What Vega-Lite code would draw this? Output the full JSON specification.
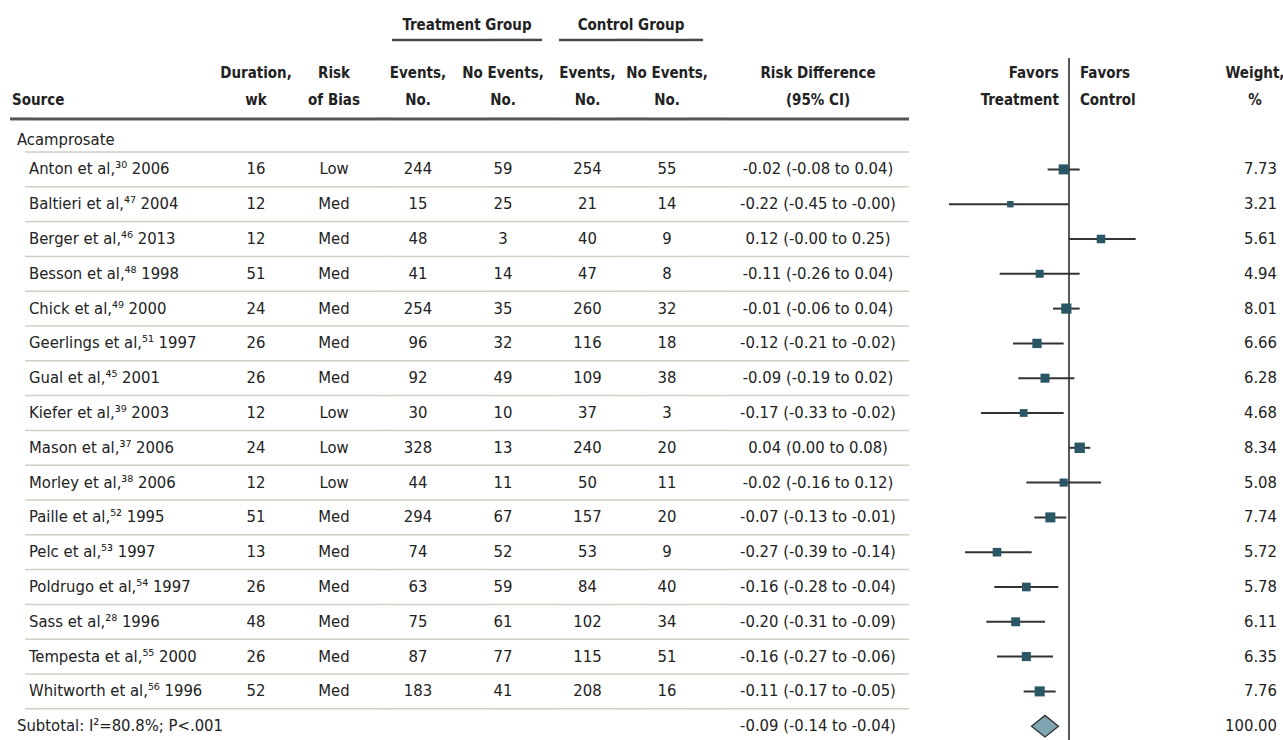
{
"$schema": "https://vega.github.io/schema/vega-lite/v6.json",
"background": "white",
"padding": {"left": 8, "top": 0, "right": 0, "bottom": 0},
"spacing": 0,
"bounds": "flush",
"config": {
  "view": {"stroke": null},
  "axis": {"disable": true},
  "legend": {"disable": true},
  "text": {"font": "DejaVu Sans Condensed, DejaVu Sans, sans-serif", "fontSize": 16.5, "color": "#222222"}
},
"datasets": {
  "rows": [
    {"row": 0, "type": "group", "source": "Acamprosate"},
    {"row": 1, "type": "study", "source": "Anton et al,³⁰ 2006", "dur": 16, "rob": "Low", "te": 244, "tn": 59, "ce": 254, "cn": 55, "rd": "-0.02 (-0.08 to 0.04)", "est": -0.02, "lo": -0.08, "hi": 0.04, "weight": 7.73},
    {"row": 2, "type": "study", "source": "Baltieri et al,⁴⁷ 2004", "dur": 12, "rob": "Med", "te": 15, "tn": 25, "ce": 21, "cn": 14, "rd": "-0.22 (-0.45 to -0.00)", "est": -0.22, "lo": -0.45, "hi": -0.0, "weight": 3.21},
    {"row": 3, "type": "study", "source": "Berger et al,⁴⁶ 2013", "dur": 12, "rob": "Med", "te": 48, "tn": 3, "ce": 40, "cn": 9, "rd": "0.12 (-0.00 to 0.25)", "est": 0.12, "lo": -0.0, "hi": 0.25, "weight": 5.61},
    {"row": 4, "type": "study", "source": "Besson et al,⁴⁸ 1998", "dur": 51, "rob": "Med", "te": 41, "tn": 14, "ce": 47, "cn": 8, "rd": "-0.11 (-0.26 to 0.04)", "est": -0.11, "lo": -0.26, "hi": 0.04, "weight": 4.94},
    {"row": 5, "type": "study", "source": "Chick et al,⁴⁹ 2000", "dur": 24, "rob": "Med", "te": 254, "tn": 35, "ce": 260, "cn": 32, "rd": "-0.01 (-0.06 to 0.04)", "est": -0.01, "lo": -0.06, "hi": 0.04, "weight": 8.01},
    {"row": 6, "type": "study", "source": "Geerlings et al,⁵¹ 1997", "dur": 26, "rob": "Med", "te": 96, "tn": 32, "ce": 116, "cn": 18, "rd": "-0.12 (-0.21 to -0.02)", "est": -0.12, "lo": -0.21, "hi": -0.02, "weight": 6.66},
    {"row": 7, "type": "study", "source": "Gual et al,⁴⁵ 2001", "dur": 26, "rob": "Med", "te": 92, "tn": 49, "ce": 109, "cn": 38, "rd": "-0.09 (-0.19 to 0.02)", "est": -0.09, "lo": -0.19, "hi": 0.02, "weight": 6.28},
    {"row": 8, "type": "study", "source": "Kiefer et al,³⁹ 2003", "dur": 12, "rob": "Low", "te": 30, "tn": 10, "ce": 37, "cn": 3, "rd": "-0.17 (-0.33 to -0.02)", "est": -0.17, "lo": -0.33, "hi": -0.02, "weight": 4.68},
    {"row": 9, "type": "study", "source": "Mason et al,³⁷ 2006", "dur": 24, "rob": "Low", "te": 328, "tn": 13, "ce": 240, "cn": 20, "rd": "0.04 (0.00 to 0.08)", "est": 0.04, "lo": 0.0, "hi": 0.08, "weight": 8.34},
    {"row": 10, "type": "study", "source": "Morley et al,³⁸ 2006", "dur": 12, "rob": "Low", "te": 44, "tn": 11, "ce": 50, "cn": 11, "rd": "-0.02 (-0.16 to 0.12)", "est": -0.02, "lo": -0.16, "hi": 0.12, "weight": 5.08},
    {"row": 11, "type": "study", "source": "Paille et al,⁵² 1995", "dur": 51, "rob": "Med", "te": 294, "tn": 67, "ce": 157, "cn": 20, "rd": "-0.07 (-0.13 to -0.01)", "est": -0.07, "lo": -0.13, "hi": -0.01, "weight": 7.74},
    {"row": 12, "type": "study", "source": "Pelc et al,⁵³ 1997", "dur": 13, "rob": "Med", "te": 74, "tn": 52, "ce": 53, "cn": 9, "rd": "-0.27 (-0.39 to -0.14)", "est": -0.27, "lo": -0.39, "hi": -0.14, "weight": 5.72},
    {"row": 13, "type": "study", "source": "Poldrugo et al,⁵⁴ 1997", "dur": 26, "rob": "Med", "te": 63, "tn": 59, "ce": 84, "cn": 40, "rd": "-0.16 (-0.28 to -0.04)", "est": -0.16, "lo": -0.28, "hi": -0.04, "weight": 5.78},
    {"row": 14, "type": "study", "source": "Sass et al,²⁸ 1996", "dur": 48, "rob": "Med", "te": 75, "tn": 61, "ce": 102, "cn": 34, "rd": "-0.20 (-0.31 to -0.09)", "est": -0.20, "lo": -0.31, "hi": -0.09, "weight": 6.11},
    {"row": 15, "type": "study", "source": "Tempesta et al,⁵⁵ 2000", "dur": 26, "rob": "Med", "te": 87, "tn": 77, "ce": 115, "cn": 51, "rd": "-0.16 (-0.27 to -0.06)", "est": -0.16, "lo": -0.27, "hi": -0.06, "weight": 6.35},
    {"row": 16, "type": "study", "source": "Whitworth et al,⁵⁶ 1996", "dur": 52, "rob": "Med", "te": 183, "tn": 41, "ce": 208, "cn": 16, "rd": "-0.11 (-0.17 to -0.05)", "est": -0.11, "lo": -0.17, "hi": -0.05, "weight": 7.76},
    {"row": 17, "type": "total", "source": "Subtotal:  I²=80.8%; P<.001", "rd": "-0.09 (-0.14 to -0.04)", "est": -0.09, "lo": -0.14, "hi": -0.04, "weight": 100.0}
  ],
  "header": [
    {"col": "src", "line": 2, "text": "Source"},
    {"col": "dur", "line": 1, "text": "Duration,"}, {"col": "dur", "line": 2, "text": "wk"},
    {"col": "rob", "line": 1, "text": "Risk"}, {"col": "rob", "line": 2, "text": "of Bias"},
    {"col": "te", "line": 1, "text": "Events,"}, {"col": "te", "line": 2, "text": "No."},
    {"col": "tn", "line": 1, "text": "No Events,"}, {"col": "tn", "line": 2, "text": "No."},
    {"col": "ce", "line": 1, "text": "Events,"}, {"col": "ce", "line": 2, "text": "No."},
    {"col": "cn", "line": 1, "text": "No Events,"}, {"col": "cn", "line": 2, "text": "No."},
    {"col": "rd", "line": 1, "text": "Risk Difference"}, {"col": "rd", "line": 2, "text": "(95% CI)"},
    {"col": "favt", "line": 1, "text": "Favors"}, {"col": "favt", "line": 2, "text": "Treatment"},
    {"col": "favc", "line": 1, "text": "Favors"}, {"col": "favc", "line": 2, "text": "Control"},
    {"col": "wt", "line": 1, "text": "Weight,"}, {"col": "wt", "line": 2, "text": "%"},
    {"col": "tg", "line": 0, "text": "Treatment Group"},
    {"col": "cg", "line": 0, "text": "Control Group"}
  ]
},
"hconcat": [
  {"width": 4, "height": 740, "resolve": {"scale": {"y": "independent"}}, "layer": [
    {"data": {"values": [{}]}, "mark": {"type": "rule", "color": "#555555", "strokeWidth": 3}, "encoding": {"y": {"datum": -0.45, "type": "quantitative", "scale": {"domain": [-3.868, 17.397], "reverse": true, "nice": false, "zero": false}}}},
    {"data": {"name": "header"}, "transform": [{"filter": "datum.col == 'src'"}], "mark": {"type": "text", "fontWeight": "bold", "fontSize": 15, "align": "left"}, "encoding": {"y": {"field": "line", "type": "quantitative", "scale": {"domain": [-1.7037, 25.7037], "reverse": true, "nice": false, "zero": false}}, "text": {"field": "text"}}}
  ]},
  {"width": 6, "height": 740, "resolve": {"scale": {"y": "independent"}}, "layer": [
    {"data": {"values": [{}]}, "mark": {"type": "rule", "color": "#555555", "strokeWidth": 3}, "encoding": {"y": {"datum": -0.45, "type": "quantitative", "scale": {"domain": [-3.868, 17.397], "reverse": true, "nice": false, "zero": false}}}},
    {"data": {"name": "rows"}, "transform": [{"filter": "datum.type == 'group'"}], "mark": {"type": "text", "align": "left", "dy": 5}, "encoding": {"y": {"field": "row", "type": "quantitative", "scale": {"domain": [-3.868, 17.397], "reverse": true, "nice": false, "zero": false}}, "text": {"field": "source"}}},
    {"data": {"name": "rows"}, "transform": [{"filter": "datum.type == 'total'"}], "mark": {"type": "text", "align": "left"}, "encoding": {"y": {"field": "row", "type": "quantitative", "scale": {"domain": [-3.868, 17.397], "reverse": true, "nice": false, "zero": false}}, "text": {"field": "source"}}}
  ]},
  {"width": 5, "height": 740, "layer": [
    {"data": {"values": [{}]}, "mark": {"type": "rule", "color": "#555555", "strokeWidth": 3}, "encoding": {"y": {"datum": -0.45, "type": "quantitative", "scale": {"domain": [-3.868, 17.397], "reverse": true, "nice": false, "zero": false}}}}
  ]},
  {"width": 8, "height": 740, "resolve": {"scale": {"y": "independent"}}, "layer": [
    {"data": {"name": "rows"}, "transform": [{"filter": "datum.row >= 1"}], "mark": {"type": "rule", "color": "#cfcfc6", "strokeWidth": 1.5}, "encoding": {"y": {"field": "row", "type": "quantitative", "scale": {"domain": [-3.368, 17.897], "reverse": true, "nice": false, "zero": false}}}},
    {"data": {"values": [{}]}, "mark": {"type": "rule", "color": "#555555", "strokeWidth": 3}, "encoding": {"y": {"datum": -0.45, "type": "quantitative", "scale": {"domain": [-3.868, 17.397], "reverse": true, "nice": false, "zero": false}}}},
    {"data": {"name": "rows"}, "transform": [{"filter": "datum.type == 'study'"}], "mark": {"type": "text", "align": "left"}, "encoding": {"y": {"field": "row", "type": "quantitative", "scale": {"domain": [-3.868, 17.397], "reverse": true, "nice": false, "zero": false}}, "text": {"field": "source"}}}
  ]},
  {"width": 189, "height": 740, "resolve": {"scale": {"y": "independent"}}, "layer": [
    {"data": {"name": "rows"}, "transform": [{"filter": "datum.row >= 1"}], "mark": {"type": "rule", "color": "#cfcfc6", "strokeWidth": 1.5}, "encoding": {"y": {"field": "row", "type": "quantitative", "scale": {"domain": [-3.368, 17.897], "reverse": true, "nice": false, "zero": false}}}},
    {"data": {"values": [{}]}, "mark": {"type": "rule", "color": "#555555", "strokeWidth": 3}, "encoding": {"y": {"datum": -0.45, "type": "quantitative", "scale": {"domain": [-3.868, 17.397], "reverse": true, "nice": false, "zero": false}}}}
  ]},
  {"width": 68, "height": 740, "resolve": {"scale": {"y": "independent"}}, "layer": [
    {"data": {"name": "rows"}, "transform": [{"filter": "datum.row >= 1"}], "mark": {"type": "rule", "color": "#cfcfc6", "strokeWidth": 1.5}, "encoding": {"y": {"field": "row", "type": "quantitative", "scale": {"domain": [-3.368, 17.897], "reverse": true, "nice": false, "zero": false}}}},
    {"data": {"values": [{}]}, "mark": {"type": "rule", "color": "#555555", "strokeWidth": 3}, "encoding": {"y": {"datum": -0.45, "type": "quantitative", "scale": {"domain": [-3.868, 17.397], "reverse": true, "nice": false, "zero": false}}}},
    {"data": {"name": "header"}, "transform": [{"filter": "datum.col == 'dur'"}], "mark": {"type": "text", "fontWeight": "bold", "fontSize": 15}, "encoding": {"y": {"field": "line", "type": "quantitative", "scale": {"domain": [-1.7037, 25.7037], "reverse": true, "nice": false, "zero": false}}, "text": {"field": "text"}}},
    {"data": {"name": "rows"}, "transform": [{"filter": "datum.type == 'study'"}], "mark": {"type": "text"}, "encoding": {"y": {"field": "row", "type": "quantitative", "scale": {"domain": [-3.868, 17.397], "reverse": true, "nice": false, "zero": false}}, "text": {"field": "dur"}}}
  ]},
  {"width": 88, "height": 740, "resolve": {"scale": {"y": "independent"}}, "layer": [
    {"data": {"name": "rows"}, "transform": [{"filter": "datum.row >= 1"}], "mark": {"type": "rule", "color": "#cfcfc6", "strokeWidth": 1.5}, "encoding": {"y": {"field": "row", "type": "quantitative", "scale": {"domain": [-3.368, 17.897], "reverse": true, "nice": false, "zero": false}}}},
    {"data": {"values": [{}]}, "mark": {"type": "rule", "color": "#555555", "strokeWidth": 3}, "encoding": {"y": {"datum": -0.45, "type": "quantitative", "scale": {"domain": [-3.868, 17.397], "reverse": true, "nice": false, "zero": false}}}},
    {"data": {"name": "header"}, "transform": [{"filter": "datum.col == 'rob'"}], "mark": {"type": "text", "fontWeight": "bold", "fontSize": 15}, "encoding": {"y": {"field": "line", "type": "quantitative", "scale": {"domain": [-1.7037, 25.7037], "reverse": true, "nice": false, "zero": false}}, "text": {"field": "text"}}},
    {"data": {"name": "rows"}, "transform": [{"filter": "datum.type == 'study'"}], "mark": {"type": "text"}, "encoding": {"y": {"field": "row", "type": "quantitative", "scale": {"domain": [-3.868, 17.397], "reverse": true, "nice": false, "zero": false}}, "text": {"field": "rob"}}}
  ]},
  {"width": 14, "height": 740, "resolve": {"scale": {"y": "independent"}}, "layer": [
    {"data": {"name": "rows"}, "transform": [{"filter": "datum.row >= 1"}], "mark": {"type": "rule", "color": "#cfcfc6", "strokeWidth": 1.5}, "encoding": {"y": {"field": "row", "type": "quantitative", "scale": {"domain": [-3.368, 17.897], "reverse": true, "nice": false, "zero": false}}}},
    {"data": {"values": [{}]}, "mark": {"type": "rule", "color": "#555555", "strokeWidth": 3}, "encoding": {"y": {"datum": -0.45, "type": "quantitative", "scale": {"domain": [-3.868, 17.397], "reverse": true, "nice": false, "zero": false}}}}
  ]},
  {"width": 52, "height": 740, "resolve": {"scale": {"y": "independent"}}, "layer": [
    {"data": {"name": "rows"}, "transform": [{"filter": "datum.row >= 1"}], "mark": {"type": "rule", "color": "#cfcfc6", "strokeWidth": 1.5}, "encoding": {"y": {"field": "row", "type": "quantitative", "scale": {"domain": [-3.368, 17.897], "reverse": true, "nice": false, "zero": false}}}},
    {"data": {"values": [{}]}, "mark": {"type": "rule", "color": "#555555", "strokeWidth": 3}, "encoding": {"y": {"datum": -0.45, "type": "quantitative", "scale": {"domain": [-3.868, 17.397], "reverse": true, "nice": false, "zero": false}}}},
    {"data": {"values": [{}]}, "mark": {"type": "rule", "color": "#474747", "strokeWidth": 2.5}, "encoding": {"y": {"datum": -2.72, "type": "quantitative", "scale": {"domain": [-3.868, 17.397], "reverse": true, "nice": false, "zero": false}}}},
    {"data": {"name": "header"}, "transform": [{"filter": "datum.col == 'te'"}], "mark": {"type": "text", "fontWeight": "bold", "fontSize": 15}, "encoding": {"y": {"field": "line", "type": "quantitative", "scale": {"domain": [-1.7037, 25.7037], "reverse": true, "nice": false, "zero": false}}, "text": {"field": "text"}}},
    {"data": {"name": "rows"}, "transform": [{"filter": "datum.type == 'study'"}], "mark": {"type": "text"}, "encoding": {"y": {"field": "row", "type": "quantitative", "scale": {"domain": [-3.868, 17.397], "reverse": true, "nice": false, "zero": false}}, "text": {"field": "te"}}}
  ]},
  {"width": 46, "height": 740, "resolve": {"scale": {"y": "independent"}}, "layer": [
    {"data": {"name": "rows"}, "transform": [{"filter": "datum.row >= 1"}], "mark": {"type": "rule", "color": "#cfcfc6", "strokeWidth": 1.5}, "encoding": {"y": {"field": "row", "type": "quantitative", "scale": {"domain": [-3.368, 17.897], "reverse": true, "nice": false, "zero": false}}}},
    {"data": {"values": [{}]}, "mark": {"type": "rule", "color": "#555555", "strokeWidth": 3}, "encoding": {"y": {"datum": -0.45, "type": "quantitative", "scale": {"domain": [-3.868, 17.397], "reverse": true, "nice": false, "zero": false}}}},
    {"data": {"values": [{}]}, "mark": {"type": "rule", "color": "#474747", "strokeWidth": 2.5}, "encoding": {"y": {"datum": -2.72, "type": "quantitative", "scale": {"domain": [-3.868, 17.397], "reverse": true, "nice": false, "zero": false}}}},
    {"data": {"name": "header"}, "transform": [{"filter": "datum.col == 'tg'"}], "mark": {"type": "text", "fontWeight": "bold", "fontSize": 15}, "encoding": {"y": {"datum": -3.15, "type": "quantitative", "scale": {"domain": [-3.868, 17.397], "reverse": true, "nice": false, "zero": false}}, "text": {"field": "text"}}}
  ]},
  {"width": 26, "height": 740, "resolve": {"scale": {"y": "independent"}}, "layer": [
    {"data": {"name": "rows"}, "transform": [{"filter": "datum.row >= 1"}], "mark": {"type": "rule", "color": "#cfcfc6", "strokeWidth": 1.5}, "encoding": {"y": {"field": "row", "type": "quantitative", "scale": {"domain": [-3.368, 17.897], "reverse": true, "nice": false, "zero": false}}}},
    {"data": {"values": [{}]}, "mark": {"type": "rule", "color": "#555555", "strokeWidth": 3}, "encoding": {"y": {"datum": -0.45, "type": "quantitative", "scale": {"domain": [-3.868, 17.397], "reverse": true, "nice": false, "zero": false}}}},
    {"data": {"values": [{}]}, "mark": {"type": "rule", "color": "#474747", "strokeWidth": 2.5}, "encoding": {"y": {"datum": -2.72, "type": "quantitative", "scale": {"domain": [-3.868, 17.397], "reverse": true, "nice": false, "zero": false}}}},
    {"data": {"name": "header"}, "transform": [{"filter": "datum.col == 'tn'"}], "mark": {"type": "text", "fontWeight": "bold", "fontSize": 15}, "encoding": {"y": {"field": "line", "type": "quantitative", "scale": {"domain": [-1.7037, 25.7037], "reverse": true, "nice": false, "zero": false}}, "text": {"field": "text"}}},
    {"data": {"name": "rows"}, "transform": [{"filter": "datum.type == 'study'"}], "mark": {"type": "text"}, "encoding": {"y": {"field": "row", "type": "quantitative", "scale": {"domain": [-3.868, 17.397], "reverse": true, "nice": false, "zero": false}}, "text": {"field": "tn"}}}
  ]},
  {"width": 26, "height": 740, "resolve": {"scale": {"y": "independent"}}, "layer": [
    {"data": {"name": "rows"}, "transform": [{"filter": "datum.row >= 1"}], "mark": {"type": "rule", "color": "#cfcfc6", "strokeWidth": 1.5}, "encoding": {"y": {"field": "row", "type": "quantitative", "scale": {"domain": [-3.368, 17.897], "reverse": true, "nice": false, "zero": false}}}},
    {"data": {"values": [{}]}, "mark": {"type": "rule", "color": "#555555", "strokeWidth": 3}, "encoding": {"y": {"datum": -0.45, "type": "quantitative", "scale": {"domain": [-3.868, 17.397], "reverse": true, "nice": false, "zero": false}}}},
    {"data": {"values": [{}]}, "mark": {"type": "rule", "color": "#474747", "strokeWidth": 2.5}, "encoding": {"y": {"datum": -2.72, "type": "quantitative", "scale": {"domain": [-3.868, 17.397], "reverse": true, "nice": false, "zero": false}}}}
  ]},
  {"width": 17, "height": 740, "resolve": {"scale": {"y": "independent"}}, "layer": [
    {"data": {"name": "rows"}, "transform": [{"filter": "datum.row >= 1"}], "mark": {"type": "rule", "color": "#cfcfc6", "strokeWidth": 1.5}, "encoding": {"y": {"field": "row", "type": "quantitative", "scale": {"domain": [-3.368, 17.897], "reverse": true, "nice": false, "zero": false}}}},
    {"data": {"values": [{}]}, "mark": {"type": "rule", "color": "#555555", "strokeWidth": 3}, "encoding": {"y": {"datum": -0.45, "type": "quantitative", "scale": {"domain": [-3.868, 17.397], "reverse": true, "nice": false, "zero": false}}}}
  ]},
  {"width": 57, "height": 740, "resolve": {"scale": {"y": "independent"}}, "layer": [
    {"data": {"name": "rows"}, "transform": [{"filter": "datum.row >= 1"}], "mark": {"type": "rule", "color": "#cfcfc6", "strokeWidth": 1.5}, "encoding": {"y": {"field": "row", "type": "quantitative", "scale": {"domain": [-3.368, 17.897], "reverse": true, "nice": false, "zero": false}}}},
    {"data": {"values": [{}]}, "mark": {"type": "rule", "color": "#555555", "strokeWidth": 3}, "encoding": {"y": {"datum": -0.45, "type": "quantitative", "scale": {"domain": [-3.868, 17.397], "reverse": true, "nice": false, "zero": false}}}},
    {"data": {"values": [{}]}, "mark": {"type": "rule", "color": "#474747", "strokeWidth": 2.5}, "encoding": {"y": {"datum": -2.72, "type": "quantitative", "scale": {"domain": [-3.868, 17.397], "reverse": true, "nice": false, "zero": false}}}},
    {"data": {"name": "header"}, "transform": [{"filter": "datum.col == 'ce'"}], "mark": {"type": "text", "fontWeight": "bold", "fontSize": 15}, "encoding": {"y": {"field": "line", "type": "quantitative", "scale": {"domain": [-1.7037, 25.7037], "reverse": true, "nice": false, "zero": false}}, "text": {"field": "text"}}},
    {"data": {"name": "rows"}, "transform": [{"filter": "datum.type == 'study'"}], "mark": {"type": "text"}, "encoding": {"y": {"field": "row", "type": "quantitative", "scale": {"domain": [-3.868, 17.397], "reverse": true, "nice": false, "zero": false}}, "text": {"field": "ce"}}}
  ]},
  {"width": 30, "height": 740, "resolve": {"scale": {"y": "independent"}}, "layer": [
    {"data": {"name": "rows"}, "transform": [{"filter": "datum.row >= 1"}], "mark": {"type": "rule", "color": "#cfcfc6", "strokeWidth": 1.5}, "encoding": {"y": {"field": "row", "type": "quantitative", "scale": {"domain": [-3.368, 17.897], "reverse": true, "nice": false, "zero": false}}}},
    {"data": {"values": [{}]}, "mark": {"type": "rule", "color": "#555555", "strokeWidth": 3}, "encoding": {"y": {"datum": -0.45, "type": "quantitative", "scale": {"domain": [-3.868, 17.397], "reverse": true, "nice": false, "zero": false}}}},
    {"data": {"values": [{}]}, "mark": {"type": "rule", "color": "#474747", "strokeWidth": 2.5}, "encoding": {"y": {"datum": -2.72, "type": "quantitative", "scale": {"domain": [-3.868, 17.397], "reverse": true, "nice": false, "zero": false}}}},
    {"data": {"name": "header"}, "transform": [{"filter": "datum.col == 'cg'"}], "mark": {"type": "text", "fontWeight": "bold", "fontSize": 15}, "encoding": {"y": {"datum": -3.15, "type": "quantitative", "scale": {"domain": [-3.868, 17.397], "reverse": true, "nice": false, "zero": false}}, "text": {"field": "text"}}}
  ]},
  {"width": 42, "height": 740, "resolve": {"scale": {"y": "independent"}}, "layer": [
    {"data": {"name": "rows"}, "transform": [{"filter": "datum.row >= 1"}], "mark": {"type": "rule", "color": "#cfcfc6", "strokeWidth": 1.5}, "encoding": {"y": {"field": "row", "type": "quantitative", "scale": {"domain": [-3.368, 17.897], "reverse": true, "nice": false, "zero": false}}}},
    {"data": {"values": [{}]}, "mark": {"type": "rule", "color": "#555555", "strokeWidth": 3}, "encoding": {"y": {"datum": -0.45, "type": "quantitative", "scale": {"domain": [-3.868, 17.397], "reverse": true, "nice": false, "zero": false}}}},
    {"data": {"values": [{}]}, "mark": {"type": "rule", "color": "#474747", "strokeWidth": 2.5}, "encoding": {"y": {"datum": -2.72, "type": "quantitative", "scale": {"domain": [-3.868, 17.397], "reverse": true, "nice": false, "zero": false}}}},
    {"data": {"name": "header"}, "transform": [{"filter": "datum.col == 'cn'"}], "mark": {"type": "text", "fontWeight": "bold", "fontSize": 15}, "encoding": {"y": {"field": "line", "type": "quantitative", "scale": {"domain": [-1.7037, 25.7037], "reverse": true, "nice": false, "zero": false}}, "text": {"field": "text"}}},
    {"data": {"name": "rows"}, "transform": [{"filter": "datum.type == 'study'"}], "mark": {"type": "text"}, "encoding": {"y": {"field": "row", "type": "quantitative", "scale": {"domain": [-3.868, 17.397], "reverse": true, "nice": false, "zero": false}}, "text": {"field": "cn"}}}
  ]},
  {"width": 15, "height": 740, "resolve": {"scale": {"y": "independent"}}, "layer": [
    {"data": {"name": "rows"}, "transform": [{"filter": "datum.row >= 1"}], "mark": {"type": "rule", "color": "#cfcfc6", "strokeWidth": 1.5}, "encoding": {"y": {"field": "row", "type": "quantitative", "scale": {"domain": [-3.368, 17.897], "reverse": true, "nice": false, "zero": false}}}},
    {"data": {"values": [{}]}, "mark": {"type": "rule", "color": "#555555", "strokeWidth": 3}, "encoding": {"y": {"datum": -0.45, "type": "quantitative", "scale": {"domain": [-3.868, 17.397], "reverse": true, "nice": false, "zero": false}}}},
    {"data": {"values": [{}]}, "mark": {"type": "rule", "color": "#474747", "strokeWidth": 2.5}, "encoding": {"y": {"datum": -2.72, "type": "quantitative", "scale": {"domain": [-3.868, 17.397], "reverse": true, "nice": false, "zero": false}}}}
  ]},
  {"width": 24, "height": 740, "resolve": {"scale": {"y": "independent"}}, "layer": [
    {"data": {"name": "rows"}, "transform": [{"filter": "datum.row >= 1"}], "mark": {"type": "rule", "color": "#cfcfc6", "strokeWidth": 1.5}, "encoding": {"y": {"field": "row", "type": "quantitative", "scale": {"domain": [-3.368, 17.897], "reverse": true, "nice": false, "zero": false}}}},
    {"data": {"values": [{}]}, "mark": {"type": "rule", "color": "#555555", "strokeWidth": 3}, "encoding": {"y": {"datum": -0.45, "type": "quantitative", "scale": {"domain": [-3.868, 17.397], "reverse": true, "nice": false, "zero": false}}}}
  ]},
  {"width": 182, "height": 740, "resolve": {"scale": {"y": "independent"}}, "layer": [
    {"data": {"name": "rows"}, "transform": [{"filter": "datum.row >= 1"}], "mark": {"type": "rule", "color": "#cfcfc6", "strokeWidth": 1.5}, "encoding": {"y": {"field": "row", "type": "quantitative", "scale": {"domain": [-3.368, 17.897], "reverse": true, "nice": false, "zero": false}}}},
    {"data": {"values": [{}]}, "mark": {"type": "rule", "color": "#555555", "strokeWidth": 3}, "encoding": {"y": {"datum": -0.45, "type": "quantitative", "scale": {"domain": [-3.868, 17.397], "reverse": true, "nice": false, "zero": false}}}},
    {"data": {"name": "header"}, "transform": [{"filter": "datum.col == 'rd'"}], "mark": {"type": "text", "fontWeight": "bold", "fontSize": 15}, "encoding": {"y": {"field": "line", "type": "quantitative", "scale": {"domain": [-1.7037, 25.7037], "reverse": true, "nice": false, "zero": false}}, "text": {"field": "text"}}},
    {"data": {"name": "rows"}, "transform": [{"filter": "datum.row >= 1"}], "mark": {"type": "text"}, "encoding": {"y": {"field": "row", "type": "quantitative", "scale": {"domain": [-3.868, 17.397], "reverse": true, "nice": false, "zero": false}}, "text": {"field": "rd"}}}
  ]},
  {"width": 324, "height": 740, "resolve": {"scale": {"y": "independent"}}, "layer": [
    {"data": {"values": [{}]}, "mark": {"type": "rule", "color": "#222222", "strokeWidth": 1.5}, "encoding": {"x": {"datum": 0, "type": "quantitative", "scale": {"domain": [-0.6, 0.615], "nice": false, "zero": false}}, "y": {"datum": -2.2, "type": "quantitative", "scale": {"domain": [-3.868, 17.397], "reverse": true, "nice": false, "zero": false}}, "y2": {"datum": 17.4}}},
    {"data": {"name": "rows"}, "transform": [{"filter": "datum.type == 'study'"}], "mark": {"type": "rule", "color": "#333333", "strokeWidth": 2}, "encoding": {"x": {"field": "lo", "type": "quantitative"}, "x2": {"field": "hi"}, "y": {"field": "row", "type": "quantitative", "scale": {"domain": [-3.868, 17.397], "reverse": true, "nice": false, "zero": false}}}},
    {"data": {"name": "rows"}, "transform": [{"filter": "datum.type == 'study'"}], "mark": {"type": "square", "filled": true, "color": "#2a5765", "opacity": 1}, "encoding": {"x": {"field": "est", "type": "quantitative"}, "y": {"field": "row", "type": "quantitative", "scale": {"domain": [-3.868, 17.397], "reverse": true, "nice": false, "zero": false}}, "size": {"field": "weight", "type": "quantitative", "scale": {"domain": [0, 10], "range": [0, 130]}, "legend": null}}},
    {"data": {"name": "rows"}, "transform": [{"filter": "datum.type == 'total'"}], "mark": {"type": "point", "shape": "M-1,0L0,-0.8L1,0L0,0.8Z", "filled": true, "fill": "#7fa5b2", "stroke": "#2f2f2f", "strokeWidth": 1.3, "size": 729, "opacity": 1}, "encoding": {"x": {"field": "est", "type": "quantitative"}, "y": {"field": "row", "type": "quantitative", "scale": {"domain": [-3.868, 17.397], "reverse": true, "nice": false, "zero": false}}}},
    {"data": {"name": "header"}, "transform": [{"filter": "datum.col == 'favt'"}], "mark": {"type": "text", "fontWeight": "bold", "fontSize": 15, "align": "right"}, "encoding": {"x": {"datum": -0.038, "type": "quantitative"}, "y": {"field": "line", "type": "quantitative", "scale": {"domain": [-1.7037, 25.7037], "reverse": true, "nice": false, "zero": false}}, "text": {"field": "text"}}},
    {"data": {"name": "header"}, "transform": [{"filter": "datum.col == 'favc'"}], "mark": {"type": "text", "fontWeight": "bold", "fontSize": 15, "align": "left"}, "encoding": {"x": {"datum": 0.041, "type": "quantitative"}, "y": {"field": "line", "type": "quantitative", "scale": {"domain": [-1.7037, 25.7037], "reverse": true, "nice": false, "zero": false}}, "text": {"field": "text"}}}
  ]},
  {"width": 44, "height": 740, "resolve": {"scale": {"y": "independent"}}, "layer": [
    {"data": {"name": "header"}, "transform": [{"filter": "datum.col == 'wt'"}], "mark": {"type": "text", "fontWeight": "bold", "fontSize": 15}, "encoding": {"y": {"field": "line", "type": "quantitative", "scale": {"domain": [-1.7037, 25.7037], "reverse": true, "nice": false, "zero": false}}, "text": {"field": "text"}}},
    {"data": {"name": "rows"}, "transform": [{"filter": "datum.row >= 1"}], "mark": {"type": "text", "align": "right"}, "encoding": {"x": {"value": "width"}, "y": {"field": "row", "type": "quantitative", "scale": {"domain": [-3.868, 17.397], "reverse": true, "nice": false, "zero": false}}, "text": {"field": "weight", "type": "quantitative", "format": ".2f"}}}
  ]}
]
}
